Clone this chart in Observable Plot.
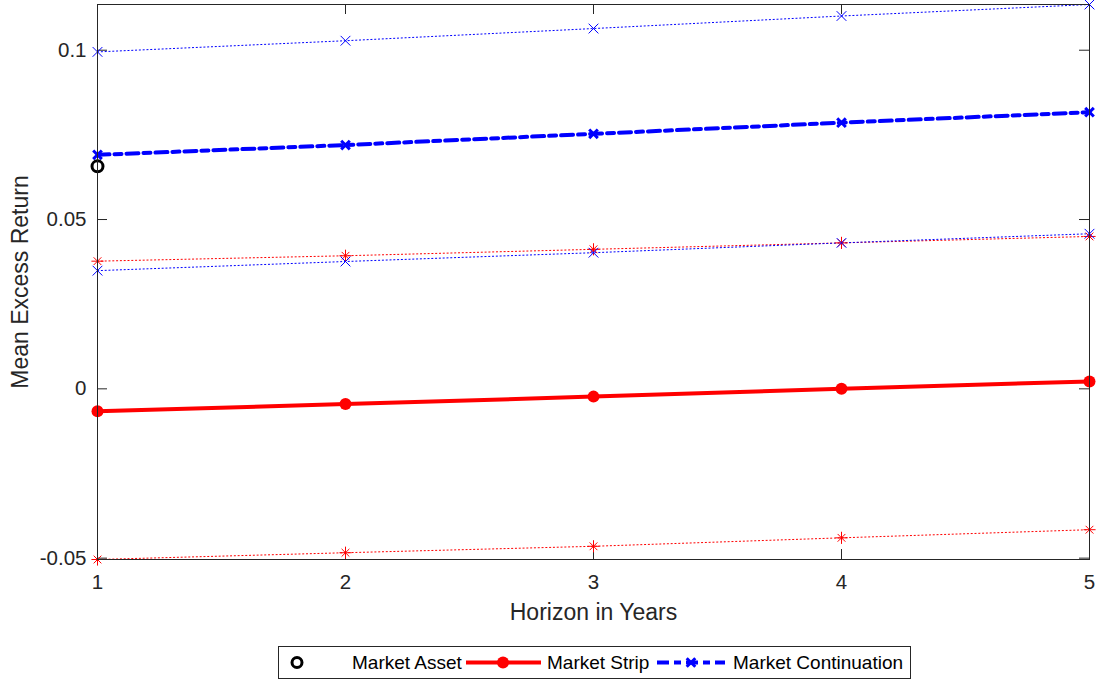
<!DOCTYPE html>
<html><head><meta charset="utf-8">
<script src="https://cdn.jsdelivr.net/npm/d3@7"></script>
<script src="https://cdn.jsdelivr.net/npm/@observablehq/plot@0.6"></script>
<style>
body{margin:0;background:#fff;font-family:"Liberation Sans",Arial,Helvetica,sans-serif;}
#wrap{position:relative;width:1098px;height:683px;overflow:hidden;}
#legend{position:absolute;left:278px;top:646px;}
</style></head><body>
<div id="wrap"><div id="chart"></div><div id="legend"></div></div>
<script>
// ---- data ----
const horizons = [1, 2, 3, 4, 5];
const xTickLabels = ["1", "2", "3", "4", "5"];
const yTicks = [-0.05, 0, 0.05, 0.1];
const yTickLabels = ["-0.05", "0", "0.05", "0.1"];

const continuationUpper = [0.0995, 0.1028, 0.1064, 0.1101, 0.1135];   // blue dotted, x markers
const continuation = [0.0691, 0.0720, 0.0753, 0.0786, 0.0817];        // blue dash-dot
const marketAssetH = [1];
const marketAsset = [0.0657];                                         // black open circle
const stripUpper = [0.0377, 0.0393, 0.0412, 0.0431, 0.0450];          // red dotted, asterisks
const continuationLower = [0.0349, 0.0376, 0.0402, 0.0431, 0.0458];   // blue dotted, x markers
const strip = [-0.0066, -0.0045, -0.0023, 0.0000, 0.0022];            // red solid
const stripLower = [-0.0504, -0.0484, -0.0465, -0.0440, -0.0416];     // red dotted, asterisks

const legendLabels = ["Market Asset", "Market Strip", "Market Continuation"];

// ---- helpers ----
const rows = (hs, vs) => hs.map((h, i) => ({h, v: vs[i]}));
const RED = "#ff0000", BLUE = "#0000ff", AX = "#262626";
const W = 1098, H = 632, ML = 97, MR = 9, MT = 4, MB = 73;
const PW = W - ML - MR, PH = H - MT - MB, TL = 10;
const FONT = '"Liberation Sans", Arial, Helvetica, sans-serif';

const allV = [...continuationUpper, ...continuation, ...marketAsset, ...stripUpper, ...continuationLower, ...strip, ...stripLower];

const dottedLine = (vals, color) =>
  Plot.line(rows(horizons, vals), {x: "h", y: "v", stroke: color, strokeWidth: 1, strokeDasharray: "1.2,2.6"});
const timesMarks = (vals, color) =>
  [Plot.dot(rows(horizons, vals), {x: "h", y: "v", stroke: color, symbol: "times", r: 4.5, strokeWidth: 1})];
const asteriskMarks = (vals, color) => [
  Plot.dot(rows(horizons, vals), {x: "h", y: "v", stroke: color, symbol: "plus", r: 4, strokeWidth: 1}),
  Plot.dot(rows(horizons, vals), {x: "h", y: "v", stroke: color, symbol: "times", r: 3.6, strokeWidth: 1})
];

const chart = Plot.plot({
  width: W, height: H,
  marginLeft: ML, marginRight: MR, marginTop: MT, marginBottom: MB,
  style: {color: AX, fontFamily: FONT, background: "#fff"},
  x: {domain: [1, 5]},
  y: {domain: [d3.min(allV), d3.max(allV)]},
  marks: [
    // inward tick marks on all four sides
    Plot.tickY(yTicks, {y: d => d, stroke: AX, insetRight: PW - TL}),
    Plot.tickY(yTicks, {y: d => d, stroke: AX, insetLeft: PW - TL}),
    Plot.tickX(horizons, {x: d => d, stroke: AX, insetTop: PH - TL}),
    Plot.tickX(horizons, {x: d => d, stroke: AX, insetBottom: PH - TL}),
    Plot.axisX(horizons, {anchor: "bottom", tickSize: 0, tickPadding: 15, fontSize: 20.5, fill: AX,
      tickFormat: d => xTickLabels[horizons.indexOf(d)], label: null}),
    Plot.axisY(yTicks, {anchor: "left", tickSize: 0, tickPadding: 11, fontSize: 20.5, fill: AX,
      tickFormat: d => yTickLabels[yTicks.indexOf(d)], label: null}),
    Plot.text(["Horizon in Years"], {frameAnchor: "bottom", dy: 60, fontSize: 23, fill: AX, textAnchor: "middle"}),
    Plot.text(["Mean Excess Return"], {frameAnchor: "left", dx: -77, rotate: -90, fontSize: 23, fill: AX, textAnchor: "middle"}),
    dottedLine(continuationUpper, BLUE),
    dottedLine(stripUpper, RED),
    dottedLine(continuationLower, BLUE),
    dottedLine(stripLower, RED),
    ...timesMarks(continuationUpper, BLUE),
    ...asteriskMarks(stripUpper, RED),
    ...timesMarks(continuationLower, BLUE),
    ...asteriskMarks(stripLower, RED),
    Plot.line(rows(horizons, strip), {x: "h", y: "v", stroke: RED, strokeWidth: 4}),
    Plot.dot(rows(horizons, strip), {x: "h", y: "v", fill: RED, r: 6}),
    Plot.line(rows(horizons, continuation), {x: "h", y: "v", stroke: BLUE, strokeWidth: 4, strokeDasharray: "12,5,7,5"}),
    Plot.dot(rows(horizons, continuation), {x: "h", y: "v", stroke: BLUE, symbol: "times", r: 4, strokeWidth: 3}),
    Plot.dot(rows(marketAssetH, marketAsset), {x: "h", y: "v", stroke: "#000", r: 5.5, strokeWidth: 3, fill: "none"}),
    Plot.frame({stroke: AX, strokeWidth: 1})
  ]
});
document.getElementById("chart").appendChild(chart);

// ---- legend ----
const ns = "http://www.w3.org/2000/svg";
const lg = d3.select("#legend").append("svg").attr("xmlns", ns).attr("width", 633).attr("height", 33)
  .style("font-family", FONT);
lg.append("rect").attr("x", 0.5).attr("y", 0.5).attr("width", 632).attr("height", 32).attr("fill", "#fff").attr("stroke", AX);
lg.append("circle").attr("cx", 19).attr("cy", 16.5).attr("r", 5).attr("fill", "none").attr("stroke", "#000").attr("stroke-width", 3);
lg.append("line").attr("x1", 188).attr("x2", 263).attr("y1", 16.5).attr("y2", 16.5).attr("stroke", RED).attr("stroke-width", 4);
lg.append("circle").attr("cx", 225).attr("cy", 16.5).attr("r", 6).attr("fill", RED);
lg.append("line").attr("x1", 379).attr("x2", 447).attr("y1", 16.5).attr("y2", 16.5).attr("stroke", BLUE).attr("stroke-width", 4).attr("stroke-dasharray", "12,5,7,5");
lg.append("path").attr("d", d3.symbol(d3.symbolTimes, Math.PI * 16)()).attr("transform", "translate(413,16.5)").attr("stroke", BLUE).attr("stroke-width", 3).attr("fill", "none");
const lx = [74, 269, 455];
legendLabels.forEach((t, i) => lg.append("text").attr("x", lx[i]).attr("y", 23).attr("font-size", 19).attr("fill", "#000").text(t));
</script>
</body></html>
